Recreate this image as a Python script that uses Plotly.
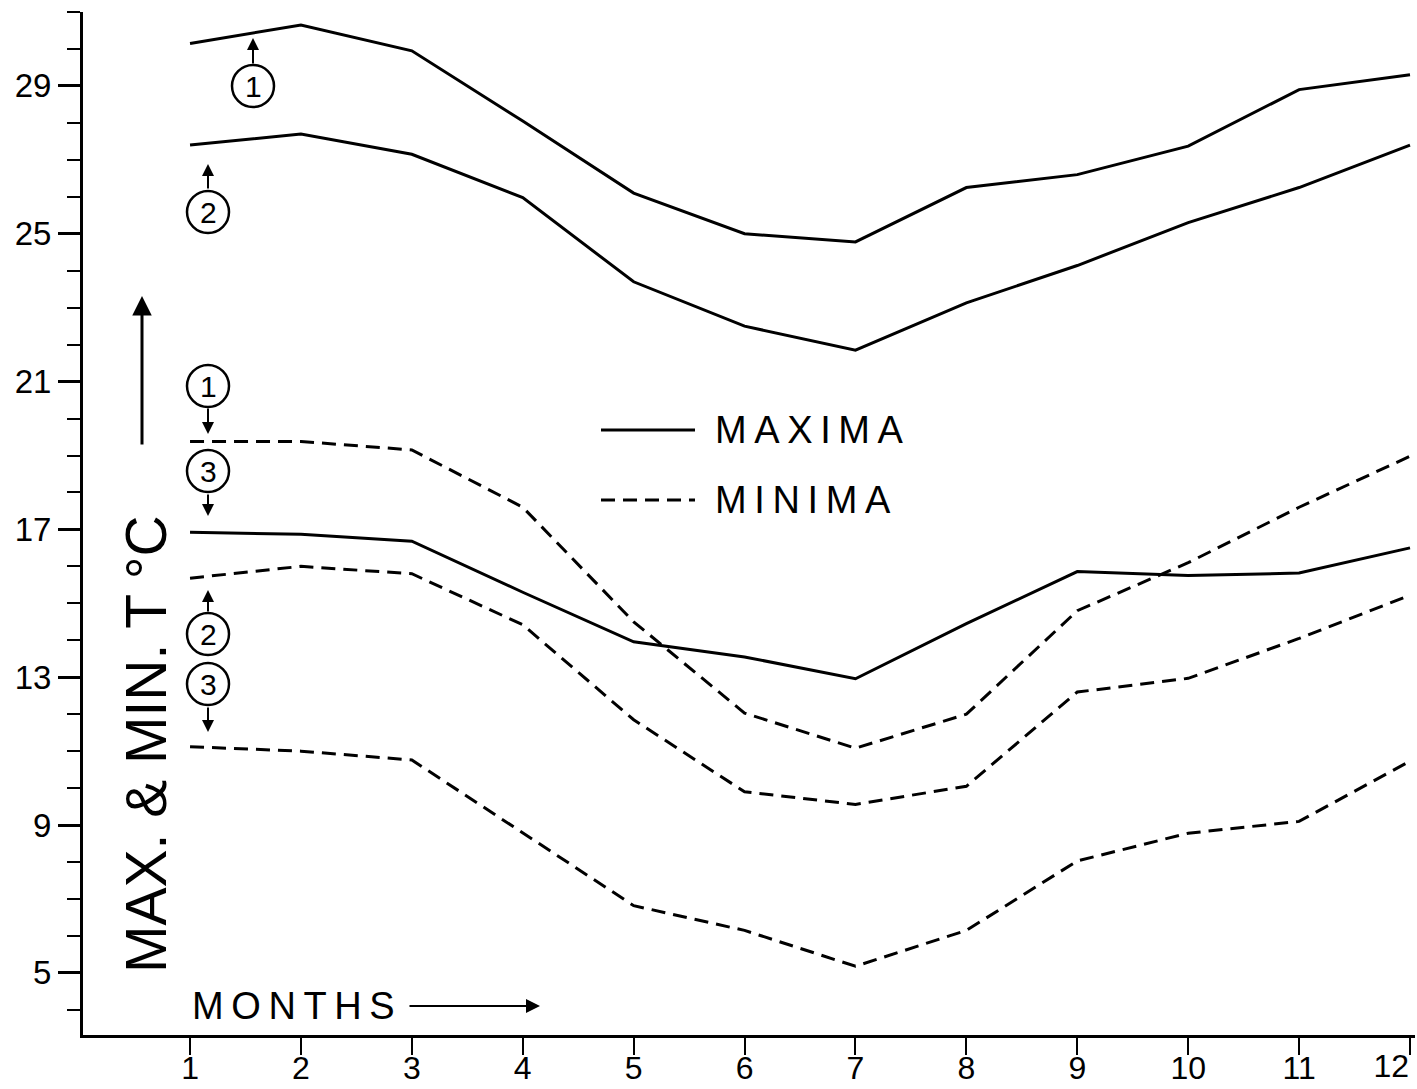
import plotly.graph_objects as go

# ---------------- data ----------------
months = list(range(1, 13))
month_labels = [str(m) for m in months]

max_1 = [30.15, 30.65, 29.95, 28.05, 26.10, 25.00, 24.78, 26.25, 26.60, 27.37, 28.90, 29.30]
max_2 = [27.40, 27.70, 27.15, 25.98, 23.70, 22.50, 21.85, 23.13, 24.14, 25.30, 26.25, 27.40]
max_3 = [16.92, 16.87, 16.68, 15.30, 13.96, 13.55, 12.96, 14.45, 15.86, 15.75, 15.82, 16.50]

min_1 = [19.38, 19.38, 19.15, 17.60, 14.50, 12.03, 11.08, 12.00, 14.80, 16.10, 17.60, 18.98]
min_2 = [15.68, 16.00, 15.80, 14.42, 11.85, 9.90, 9.56, 10.05, 12.60, 12.97, 14.05, 15.22]
min_3 = [11.12, 11.00, 10.76, 8.80, 6.82, 6.15, 5.18, 6.15, 8.03, 8.78, 9.10, 10.73]

y_tick_start = 5
y_tick_step = 4

# ---------------- layout helpers (decorations only) ----------------
W, H = 1417, 1089
L, R, T, B = 83, 2, 12, 54
PW, PH = W - L - R, H - T - B
X_RANGE = [0.035, 12.045]
Y_RANGE = [3.32, 31.0]


def P(px, py):
    """pixel position -> paper coordinates (for annotations / shapes only)"""
    return (px - L) / PW, (H - B - py) / PH


FONT = "Liberation Sans, Arial, Helvetica, sans-serif"
THIN = "\u2009"

fig = go.Figure()
for ys in (max_1, max_2, max_3):
    fig.add_trace(go.Scatter(x=months, y=ys, mode="lines",
                             line=dict(color="black", width=3), showlegend=False,
                             hoverinfo="skip"))
for ys in (min_1, min_2, min_3):
    fig.add_trace(go.Scatter(x=months, y=ys, mode="lines",
                             line=dict(color="black", width=3, dash="14px,8px"),
                             showlegend=False, hoverinfo="skip"))
# invisible carrier trace so the overlay axis (last month label) is drawn
fig.add_trace(go.Scatter(x=months, y=max_1, xaxis="x2", mode="lines",
                         line=dict(width=0), opacity=0, showlegend=False,
                         hoverinfo="skip"))

fig.update_layout(
    width=W, height=H,
    margin=dict(l=L, r=R, t=T, b=B, autoexpand=False),
    paper_bgcolor="white", plot_bgcolor="white",
    showlegend=False,
    font=dict(family=FONT, color="black"),
)
# main x axis: all ticks, labels for months 1..11
fig.update_layout(xaxis=dict(
    range=X_RANGE, tickmode="array", tickvals=months,
    ticktext=month_labels[:-1] + [""], automargin=False,
    ticks="outside", ticklen=17, tickwidth=2, tickcolor="black",
    ticklabelstandoff=-14,
    showline=True, linewidth=3, linecolor="black",
    showgrid=False, zeroline=False, tickfont=dict(size=32, family=FONT),
))
# overlay x axis: last label drawn to the left of its tick (as in the original)
fig.update_layout(xaxis2=dict(
    overlaying="x", anchor="y", side="bottom", matches="x", automargin=False,
    tickmode="array", tickvals=months[-1:], ticktext=month_labels[-1:],
    ticklabelposition="outside left", ticklabelstandoff=3,
    ticks="outside", ticklen=17, tickwidth=2, tickcolor="black",
    showline=False, showgrid=False, zeroline=False,
    tickfont=dict(size=32, family=FONT),
))
fig.update_yaxes(
    range=Y_RANGE, tickmode="linear", tick0=y_tick_start, dtick=y_tick_step,
    automargin=False,
    ticks="outside", ticklen=22, tickwidth=2.5, tickcolor="black",
    showline=True, linewidth=3, linecolor="black",
    showgrid=False, zeroline=False, tickfont=dict(size=33, family=FONT),
    minor=dict(tickmode="linear", tick0=0, dtick=1, ticks="outside", ticklen=13,
               tickwidth=2, tickcolor="black", showgrid=False),
)

shapes = []
annotations = []

# circled series markers
circles = [("1", 253, 86), ("2", 208, 212), ("1", 208, 386),
           ("3", 208, 471), ("2", 208, 634), ("3", 208, 684)]
for label, cx, cy in circles:
    px_, py_ = P(cx, cy)
    shapes.append(dict(type="circle", xref="paper", yref="paper",
                       xsizemode="pixel", ysizemode="pixel",
                       xanchor=px_, yanchor=py_, x0=-21, x1=21, y0=-21, y1=21,
                       line=dict(color="black", width=2.5)))
    annotations.append(dict(xref="paper", yref="paper", x=px_, y=py_, text=label,
                            showarrow=False, font=dict(size=30, family=FONT),
                            xanchor="center", yanchor="middle"))

# small arrows (head, tail) in pixels
arrows = [((253, 38), (253, 65)), ((208, 164), (208, 190)),
          ((208, 434), (208, 407)), ((208, 516), (208, 493)),
          ((208, 590), (208, 613)), ((208, 732), (208, 706))]
for (hx, hy), (tx, ty) in arrows:
    x_, y_ = P(hx, hy)
    annotations.append(dict(xref="paper", yref="paper", x=x_, y=y_, text="",
                            showarrow=True, ax=tx - hx, ay=ty - hy,
                            arrowhead=2, arrowsize=1.2, arrowwidth=2,
                            arrowcolor="black", standoff=0, startstandoff=0))

# big y-title arrow
x_, y_ = P(142, 296)
annotations.append(dict(xref="paper", yref="paper", x=x_, y=y_, text="",
                        showarrow=True, ax=0, ay=150, arrowhead=2, arrowsize=1.3,
                        arrowwidth=3, arrowcolor="black", standoff=0))

# y title
x_, y_ = P(146, 744)
annotations.append(dict(xref="paper", yref="paper", x=x_, y=y_,
                        text="MAX. &amp; MIN. T °C", textangle=-90, showarrow=False,
                        font=dict(size=57, family=FONT),
                        xanchor="center", yanchor="middle"))

# MONTHS label and arrow
x_, y_ = P(190, 1006)
annotations.append(dict(xref="paper", yref="paper", x=x_, y=y_,
                        text=THIN.join("MONTHS"), showarrow=False,
                        font=dict(size=38, family=FONT),
                        xanchor="left", yanchor="middle"))
x_, y_ = P(540, 1006)
annotations.append(dict(xref="paper", yref="paper", x=x_, y=y_, text="",
                        showarrow=True, ax=-132, ay=0, arrowhead=2, arrowsize=1.4,
                        arrowwidth=2, arrowcolor="black", standoff=0))

# legend
for (label, ly, dash) in (("MAXIMA", 430, "solid"), ("MINIMA", 500, "14px,8px")):
    x0, y0 = P(601, ly)
    x1, _ = P(695, ly)
    shapes.append(dict(type="line", xref="paper", yref="paper", x0=x0, x1=x1,
                       y0=y0, y1=y0, line=dict(color="black", width=3, dash=dash)))
    tx, ty = P(713, ly)
    annotations.append(dict(xref="paper", yref="paper", x=tx, y=ty,
                            text=THIN.join(label), showarrow=False,
                            font=dict(size=38, family=FONT),
                            xanchor="left", yanchor="middle"))

fig.update_layout(shapes=shapes, annotations=annotations)
fig.write_html("out.html")
